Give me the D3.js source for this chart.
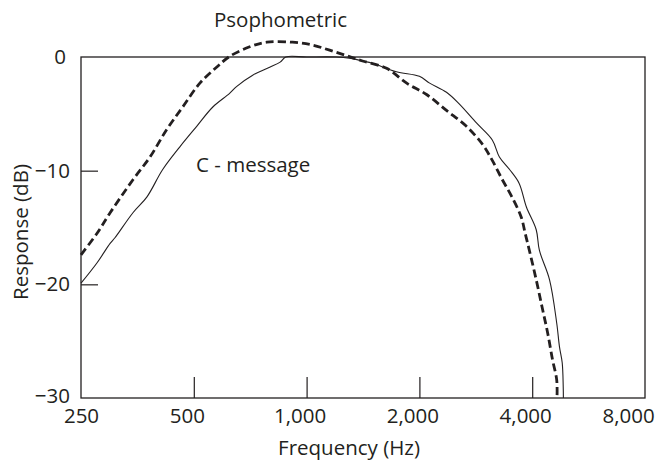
<!DOCTYPE html>
<html>
<head>
<meta charset="utf-8">
<script src="https://cdn.jsdelivr.net/npm/d3@7"></script>
<style>
  html, body { margin: 0; padding: 0; background: #fff; }
  svg text { font-family: "Open Sans", "Noto Sans", sans-serif; fill: #231f20; }
</style>
</head>
<body>
<svg id="chart" width="661" height="462"></svg>
<script>
// Weighting curves: frequency (Hz) and response (dB)
const psophFreq = [250, 276, 299, 344, 382, 423, 467, 519, 575, 623, 705, 783, 917, 1037, 1152, 1281, 1410, 1635, 1850, 2090, 2362, 2670, 2950, 3130, 3330, 3530, 3740, 3830, 3930, 4100, 4250, 4400, 4530, 4650, 4660];
const psophDb   = [-17.4, -15.5, -13.7, -10.8, -8.8, -6.4, -4.4, -2.3, -0.9, 0.05, 0.9, 1.3, 1.3, 1.05, 0.6, 0.1, -0.35, -1.0, -2.3, -3.3, -4.7, -6.1, -7.7, -9.1, -10.8, -12.3, -14.1, -15.5, -17.0, -19.6, -22.0, -24.3, -26.6, -28.4, -29.8];

const cmsgFreq = [250, 276, 299, 308, 344, 375, 413, 459, 509, 562, 623, 650, 718, 797, 850, 880, 1000, 1200, 1300, 1410, 1498, 1737, 2000, 2130, 2362, 2550, 2840, 3130, 3270, 3480, 3690, 3860, 4100, 4180, 4450, 4650, 4730, 4810, 4840, 4845];
const cmsgDb   = [-19.9, -18.1, -16.4, -15.9, -13.7, -12.3, -9.9, -7.9, -6.1, -4.4, -3.2, -2.6, -1.6, -0.9, -0.45, 0, 0, 0, -0.1, -0.35, -0.55, -1.3, -1.7, -2.3, -3.1, -4.1, -5.8, -7.3, -8.8, -9.9, -11.1, -13.2, -15.2, -17.0, -19.6, -23.4, -25.5, -26.9, -29.0, -30];

const xTicks = [250, 500, 1000, 2000, 4000, 8000];
const yTicks = [0, -10, -20, -30];

const svg = d3.select("#chart");
const margin = { left: 81, right: 16, top: 57, bottom: 64 };
const W = 661, H = 462;
const fs = 20.5;

const x = d3.scaleLog().base(2).domain([250, 8000]).range([margin.left, W - margin.right]);
const y = d3.scaleLinear().domain([-30, 0]).range([H - margin.bottom, margin.top]);

const ink = "#231f20";
const fmt = d3.format(",");

// Frame
svg.append("rect")
  .attr("x", x(250)).attr("y", y(0))
  .attr("width", x(8000) - x(250)).attr("height", y(-30) - y(0))
  .attr("fill", "none").attr("stroke", ink).attr("stroke-width", 1.3);

// X axis: inner ticks rising from the bottom edge, labels below
const xAxis = d3.axisBottom(x).tickValues(xTicks).tickFormat(d => fmt(d))
  .tickSizeOuter(0).tickSizeInner(-21).tickPadding(10);
const gx = svg.append("g").attr("transform", `translate(0,${y(-30)})`).call(xAxis);
gx.select(".domain").remove();
gx.selectAll(".tick line").attr("stroke", ink).attr("stroke-width", 1.2)
  .attr("display", d => (d === 250 || d === 8000) ? "none" : null);
gx.selectAll(".tick text")
  .attr("font-size", fs).attr("font-family", "Open Sans").attr("fill", ink)
  .attr("dx", d => d === 250 ? 0 : (d === 8000 ? -17 : -7));

// Y axis: short inner ticks, labels on the left
const yAxis = d3.axisLeft(y).tickValues(yTicks).tickFormat(d => d < 0 ? "\u2212" + Math.abs(d) : d)
  .tickSizeOuter(0).tickSizeInner(-17).tickPadding(11);
const gy = svg.append("g").attr("transform", `translate(${x(250)},0)`).call(yAxis);
gy.select(".domain").remove();
gy.selectAll(".tick line").attr("stroke", ink).attr("stroke-width", 1.2)
  .attr("display", d => (d === 0 || d === -30) ? "none" : null);
gy.selectAll(".tick text")
  .attr("font-size", fs).attr("font-family", "Open Sans").attr("fill", ink)
  .attr("dx", d => d === 0 ? -4 : 0)
  .attr("dy", d => d === -30 ? "0.22em" : "0.32em");

// Curves
const line = d3.line().x(d => x(d[0])).y(d => y(d[1])).curve(d3.curveCatmullRom.alpha(0.5));

svg.append("path")
  .datum(cmsgFreq.map((f, i) => [f, cmsgDb[i]]))
  .attr("d", line)
  .attr("fill", "none").attr("stroke", ink).attr("stroke-width", 1.1);

svg.append("path")
  .datum(psophFreq.map((f, i) => [f, psophDb[i]]))
  .attr("d", line)
  .attr("fill", "none").attr("stroke", ink).attr("stroke-width", 2.8)
  .attr("stroke-dasharray", "8,4");

// Curve labels
svg.append("text").attr("x", 214).attr("y", 27).attr("font-size", fs).text("Psophometric");
svg.append("text").attr("x", 196).attr("y", 172).attr("font-size", fs).text("C - message");

// Axis titles
svg.append("text").attr("x", 349).attr("y", 455)
  .attr("text-anchor", "middle").attr("font-size", fs).text("Frequency (Hz)");
svg.append("text").attr("transform", `translate(28,232) rotate(-90)`)
  .attr("text-anchor", "middle").attr("font-size", fs).text("Response (dB)");
</script>
</body>
</html>
